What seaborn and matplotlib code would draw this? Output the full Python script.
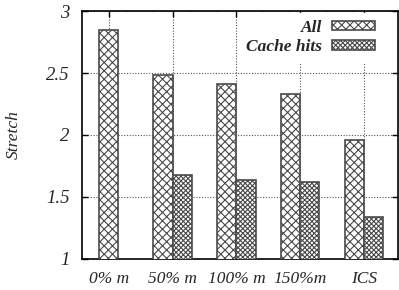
import numpy as np
import seaborn as sns
import matplotlib.pyplot as plt
from matplotlib.patches import Patch

# data
categories = ['0% m', '50% m', '100% m', '150%m', 'ICS']
all_vals = [2.85, 2.48, 2.41, 2.33, 1.96]
cache_vals = [np.nan, 1.68, 1.64, 1.62, 1.34]

sns.set_theme(style='white')
plt.rcParams['font.family'] = ['Liberation Serif', 'DejaVu Serif']
plt.rcParams['hatch.linewidth'] = 0.8

fig = plt.figure(figsize=(3.99, 2.90), dpi=100)
ax = fig.add_axes([0.2055, 0.107, 0.792, 0.855])

w = 0.3
x = np.arange(len(categories))
# groups with only one value get a centred bar
x_all = np.where(np.isnan(cache_vals), x, x - w / 2)
x_cache = x + w / 2

edge = '#4a4a4a'
ax.bar(x_all, all_vals, width=w, color='white', edgecolor=edge,
       hatch='xxxx', linewidth=1.2, zorder=3)
ax.bar(x_cache, cache_vals, width=w, color='white', edgecolor=edge,
       hatch='xxxxxxx', linewidth=1.2, zorder=3)

ax.set_ylim(1, 3)
ax.set_xlim(-0.42, 4.53)
ax.set_yticks([1, 1.5, 2, 2.5, 3])
ax.set_yticklabels(['1', '1.5', '2', '2.5', '3'], fontsize=13.5, style='italic')
ax.set_xticks(x)
ax.set_xticklabels(categories, fontsize=12.5, style='italic')
ax.tick_params(direction='in', length=4, width=1, color='black', pad=9,
               top=True, right=True, bottom=True, left=True)
ax.tick_params(axis='y', pad=9)
ax.grid(True, linestyle=(0, (1, 1.5)), color='#555555', linewidth=0.8, zorder=0)
ax.set_ylabel('Stretch', fontsize=12.5, style='italic')
ax.yaxis.set_label_coords(-0.19, 0.5)
for s in ax.spines.values():
    s.set_color('black')
    s.set_linewidth(1.2)

handles = [Patch(facecolor='white', edgecolor=edge, hatch='xxxx', linewidth=1.2),
           Patch(facecolor='white', edgecolor=edge, hatch='xxxxxxx', linewidth=1.2)]
leg = ax.legend(handles, ['All', 'Cache hits'], loc='upper right',
                bbox_to_anchor=(0.955, 1.0), frameon=True,
                markerfirst=False, handlelength=2.5, handleheight=0.5,
                handletextpad=0.55, labelspacing=0.2, borderaxespad=0.1,
                prop={'family': 'Liberation Serif', 'style': 'italic',
                      'weight': 'bold', 'size': 12.5})
leg.get_frame().set_facecolor('white')
leg.get_frame().set_edgecolor('white')
leg.get_frame().set_alpha(1)
for t in leg.get_texts():
    t.set_ha('right')
leg.set_zorder(5)

fig.savefig('out.png', dpi=100)
